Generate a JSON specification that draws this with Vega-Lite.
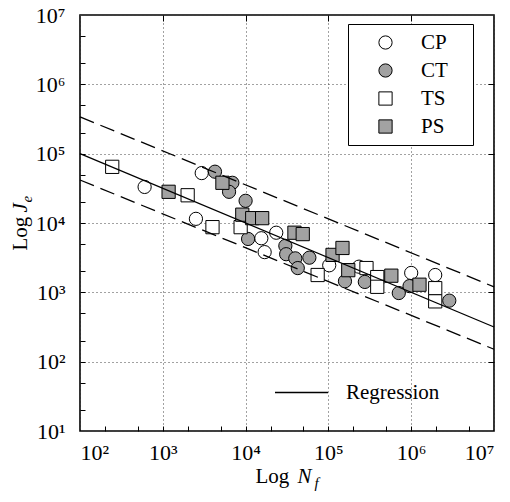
{
  "$schema": "https://vega.github.io/schema/vega-lite/v6.json",
  "width": 414,
  "height": 416,
  "autosize": {"type": "none"},
  "padding": {"left": 80, "top": 15, "right": 16, "bottom": 71},
  "background": "white",
  "datasets": {
    "points": [
      {"group": "CP", "N": 603, "J": 33113},
      {"group": "CP", "N": 2512, "J": 11482},
      {"group": "CP", "N": 2951, "J": 52481},
      {"group": "CP", "N": 15488, "J": 6026},
      {"group": "CP", "N": 23442, "J": 7244},
      {"group": "CP", "N": 16982, "J": 3802},
      {"group": "CP", "N": 102329, "J": 2455},
      {"group": "CP", "N": 234423, "J": 2344},
      {"group": "CP", "N": 1000000, "J": 1905},
      {"group": "CP", "N": 1949845, "J": 1778},
      {"group": "CT", "N": 4266, "J": 54954},
      {"group": "CT", "N": 6918, "J": 38019},
      {"group": "CT", "N": 6310, "J": 28184},
      {"group": "CT", "N": 10000, "J": 20893},
      {"group": "CT", "N": 10715, "J": 5888},
      {"group": "CT", "N": 30200, "J": 4677},
      {"group": "CT", "N": 30903, "J": 3548},
      {"group": "CT", "N": 39811, "J": 3090},
      {"group": "CT", "N": 42658, "J": 2239},
      {"group": "CT", "N": 58884, "J": 3162},
      {"group": "CT", "N": 158489, "J": 1445},
      {"group": "CT", "N": 275423, "J": 1413},
      {"group": "CT", "N": 707946, "J": 977},
      {"group": "CT", "N": 954993, "J": 1230},
      {"group": "CT", "N": 2884032, "J": 759},
      {"group": "TS", "N": 245, "J": 64565},
      {"group": "TS", "N": 1995, "J": 25119},
      {"group": "TS", "N": 3981, "J": 8710},
      {"group": "TS", "N": 8710, "J": 8710},
      {"group": "TS", "N": 74131, "J": 1778},
      {"group": "TS", "N": 288403, "J": 2239},
      {"group": "TS", "N": 389045, "J": 1660},
      {"group": "TS", "N": 389045, "J": 1202},
      {"group": "TS", "N": 1949845, "J": 1148},
      {"group": "TS", "N": 1949845, "J": 741},
      {"group": "PS", "N": 1175, "J": 28184},
      {"group": "PS", "N": 5248, "J": 38019},
      {"group": "PS", "N": 9120, "J": 13183},
      {"group": "PS", "N": 12023, "J": 11749},
      {"group": "PS", "N": 15849, "J": 11749},
      {"group": "PS", "N": 38905, "J": 7244},
      {"group": "PS", "N": 48978, "J": 6918},
      {"group": "PS", "N": 112202, "J": 3467},
      {"group": "PS", "N": 147911, "J": 4365},
      {"group": "PS", "N": 173780, "J": 2089},
      {"group": "PS", "N": 575440, "J": 1738},
      {"group": "PS", "N": 1258925, "J": 1288}
    ],
    "lines": [
      {"line": "Regression", "N": 100, "J": 100000},
      {"line": "Regression", "N": 10000000, "J": 316},
      {"line": "Upper", "N": 100, "J": 339000},
      {"line": "Upper", "N": 10000000, "J": 1200},
      {"line": "Lower", "N": 100, "J": 41700},
      {"line": "Lower", "N": 10000000, "J": 151}
    ]
  },
  "config": {
    "font": "Liberation Serif",
    "view": {"stroke": "black", "strokeWidth": 1.6},
    "axis": {
      "labelFont": "Liberation Serif",
      "titleFont": "Liberation Serif",
      "labelFontSize": 22,
      "titleFontSize": 21,
      "labelColor": "black",
      "titleColor": "black",
      "titleFontWeight": "normal",
      "gridColor": "#444444",
      "gridDash": [1, 3],
      "gridWidth": 1,
      "tickColor": "black",
      "domain": false
    },
    "legend": {
      "labelFont": "Liberation Serif",
      "labelFontSize": 21,
      "labelColor": "black"
    }
  },
  "resolve": {"axis": {"x": "independent", "y": "independent"}},
  "layer": [
    {
      "data": {"name": "points"},
      "mark": {"type": "point", "filled": true, "strokeWidth": 1, "size": 175, "opacity": 1},
      "encoding": {
        "x": {
          "field": "N", "type": "quantitative",
          "scale": {"type": "log", "domain": [100, 10000000]},
          "axis": {
            "orient": "bottom",
            "values": [100, 1000, 10000, 100000, 1000000, 10000000],
            "labelExpr": "'10' + substring('⁰¹²³⁴⁵⁶⁷⁸⁹', round(log(datum.value)/LN10), round(log(datum.value)/LN10)+1)",
            "labelFont": "Liberation Serif",
            "labelPadding": 11, "ticks": false, "grid": true,
            "title": "Log", "titleX": 175, "titleY": 51, "titleAlign": "left", "titleBaseline": "alphabetic"
          }
        },
        "y": {
          "field": "J", "type": "quantitative",
          "scale": {"type": "log", "domain": [10, 10000000]},
          "axis": {
            "orient": "left",
            "values": [10, 100, 1000, 10000, 100000, 1000000, 10000000],
            "labelExpr": "'10' + substring('⁰¹²³⁴⁵⁶⁷⁸⁹', round(log(datum.value)/LN10), round(log(datum.value)/LN10)+1)",
            "labelFont": "Liberation Serif",
            "labelPadding": 15, "ticks": false, "grid": true,
            "title": "Log", "titleAngle": -90, "titleX": -54, "titleY": 235, "titleAlign": "left", "titleBaseline": "alphabetic"
          }
        },
        "shape": {
          "field": "group", "type": "nominal", "title": "x",
          "scale": {"domain": ["CP", "CT", "TS", "PS"], "range": ["circle", "circle", "square", "square"]},
          "legend": {
            "orient": "none", "legendX": 268, "legendY": 9,
            "padding": 8, "strokeColor": "black", "fillColor": "white",
            "symbolSize": 175, "symbolStrokeWidth": 1,
            "symbolOffset": 19, "labelOffset": 25, "rowPadding": 6,
            "titleOrient": "right", "titleOpacity": 0, "titleFontSize": 21, "titlePadding": 6
          }
        },
        "fill": {
          "field": "group", "type": "nominal", "title": "x",
          "scale": {"domain": ["CP", "CT", "TS", "PS"], "range": ["white", "#a2a2a2", "white", "#a2a2a2"]},
          "legend": {
            "orient": "none", "legendX": 268, "legendY": 9,
            "padding": 8, "strokeColor": "black", "fillColor": "white",
            "symbolSize": 175, "symbolStrokeWidth": 1,
            "symbolOffset": 19, "labelOffset": 25, "rowPadding": 6,
            "titleOrient": "right", "titleOpacity": 0, "titleFontSize": 21, "titlePadding": 6
          }
        },
        "stroke": {
          "field": "group", "type": "nominal", "title": "x",
          "scale": {"domain": ["CP", "CT", "TS", "PS"], "range": ["black", "black", "black", "black"]},
          "legend": {
            "orient": "none", "legendX": 268, "legendY": 9,
            "padding": 8, "strokeColor": "black", "fillColor": "white",
            "symbolSize": 175, "symbolStrokeWidth": 1,
            "symbolOffset": 19, "labelOffset": 25, "rowPadding": 6,
            "titleOrient": "right", "titleOpacity": 0, "titleFontSize": 21, "titlePadding": 6
          }
        }
      }
    },
    {
      "data": {"name": "lines"},
      "transform": [{"filter": "datum.line === 'Regression'"}],
      "mark": {"type": "line", "strokeWidth": 1.3},
      "encoding": {
        "x": {
          "field": "N", "type": "quantitative",
          "axis": {"orient": "bottom", "labels": false, "ticks": false, "grid": false,
            "title": "N", "titleFontStyle": "italic", "titleX": 217, "titleY": 51, "titleAlign": "left", "titleBaseline": "alphabetic"}
        },
        "y": {
          "field": "J", "type": "quantitative",
          "axis": {"orient": "left", "labels": false, "ticks": false, "grid": false,
            "title": "J", "titleFontStyle": "italic", "titleAngle": -90, "titleX": -54, "titleY": 197, "titleAlign": "left", "titleBaseline": "alphabetic"}
        },
        "color": {
          "field": "line", "type": "nominal",
          "scale": {"domain": ["Regression"], "range": ["black"]},
          "legend": {
            "title": null, "orient": "none", "legendX": 194, "legendY": 350,
            "padding": 0, "symbolType": "stroke", "symbolSize": 2809,
            "symbolStrokeWidth": 1.3, "labelOffset": 17
          }
        }
      }
    },
    {
      "data": {"name": "lines"},
      "transform": [{"filter": "datum.line === 'Upper'"}],
      "mark": {"type": "line", "color": "black", "strokeWidth": 1.3, "strokeDash": [15, 7]},
      "encoding": {
        "x": {
          "field": "N", "type": "quantitative",
          "axis": {"orient": "bottom", "labels": false, "grid": false,
            "values": [200, 500, 1000, 2000, 5000, 10000, 20000, 50000, 100000, 200000, 500000, 1000000, 2000000, 5000000],
            "tickSize": -5, "tickWidth": 1,
            "title": "f", "titleFontStyle": "italic", "titleFontSize": 15, "titleX": 234, "titleY": 56, "titleAlign": "left", "titleBaseline": "alphabetic"}
        },
        "y": {
          "field": "J", "type": "quantitative",
          "axis": {"orient": "left", "labels": false, "grid": false,
            "values": [20, 50, 100, 200, 500, 1000, 2000, 5000, 10000, 20000, 50000, 100000, 200000, 500000, 1000000, 2000000, 5000000],
            "tickSize": -5, "tickWidth": 1,
            "title": "e", "titleFontStyle": "italic", "titleFontSize": 15, "titleAngle": -90, "titleX": -49, "titleY": 187, "titleAlign": "left", "titleBaseline": "alphabetic"}
        }
      }
    },
    {
      "data": {"name": "lines"},
      "transform": [{"filter": "datum.line === 'Lower'"}],
      "mark": {"type": "line", "color": "black", "strokeWidth": 1.3, "strokeDash": [15, 7]},
      "encoding": {
        "x": {
          "field": "N", "type": "quantitative",
          "axis": {"orient": "top", "labels": false, "grid": false, "title": null,
            "values": [1000, 10000, 100000, 1000000], "tickSize": -6, "tickWidth": 1}
        },
        "y": {
          "field": "J", "type": "quantitative",
          "axis": {"orient": "right", "labels": false, "grid": false, "title": null,
            "values": [100, 1000, 10000, 100000, 1000000], "tickSize": -6, "tickWidth": 1}
        }
      }
    }
  ]
}
